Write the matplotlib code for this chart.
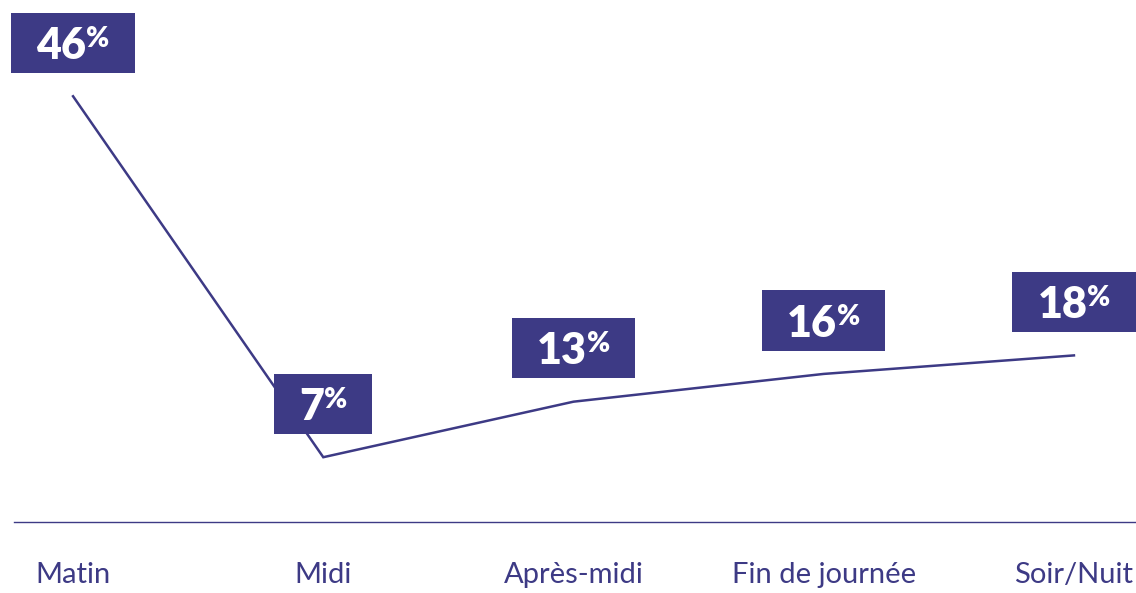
import matplotlib
matplotlib.use("Agg")
import matplotlib.pyplot as plt
from matplotlib.offsetbox import TextArea, HPacker, VPacker, DrawingArea, AnnotationBbox

# data
categories = ["Matin", "Midi", "Après-midi", "Fin de journée", "Soir/Nuit"]
values = [46, 7, 13, 16, 18]

NAVY = "#3d3a85"

fig, ax = plt.subplots(figsize=(11.36, 5.93), dpi=100)
ax.set_position([14 / 1136, 71 / 593, 1122 / 1136, 522 / 593])

x = list(range(len(categories)))
ax.plot(x, values, color=NAVY, linewidth=1.8, solid_joinstyle="miter")

ax.set_xlim(-0.236, 4.248)
ax.set_ylim(0, 56.4)

for xi, v in zip(x, values):
    num = TextArea(str(v), textprops=dict(color="white", fontsize=31,
                                          fontweight="heavy", family="Lato"))
    pct = TextArea("%", textprops=dict(color="white", fontsize=20,
                                       fontweight="heavy", family="Lato"))
    row = HPacker(children=[DrawingArea(18, 1), num, pct, DrawingArea(18, 1)],
                  align="top", pad=0, sep=0)
    pack = VPacker(children=[DrawingArea(1, 9.5), row, DrawingArea(1, 5)],
                   align="center", pad=0, sep=0)
    ab = AnnotationBbox(pack, (xi, v), xybox=(0, 38.5), boxcoords="offset points",
                        frameon=True, pad=0,
                        bboxprops=dict(facecolor=NAVY, edgecolor="none",
                                       boxstyle="square,pad=0"))
    ax.add_artist(ab)

ax.set_xticks(x)
ax.set_xticklabels(categories, fontsize=21, color=NAVY, family="Lato")
ax.tick_params(axis="x", length=0, pad=29)
ax.set_yticks([])
for side in ["top", "left", "right"]:
    ax.spines[side].set_visible(False)
ax.spines["bottom"].set_color(NAVY)
ax.spines["bottom"].set_linewidth(1.0)

fig.savefig("out.png", dpi=100)
